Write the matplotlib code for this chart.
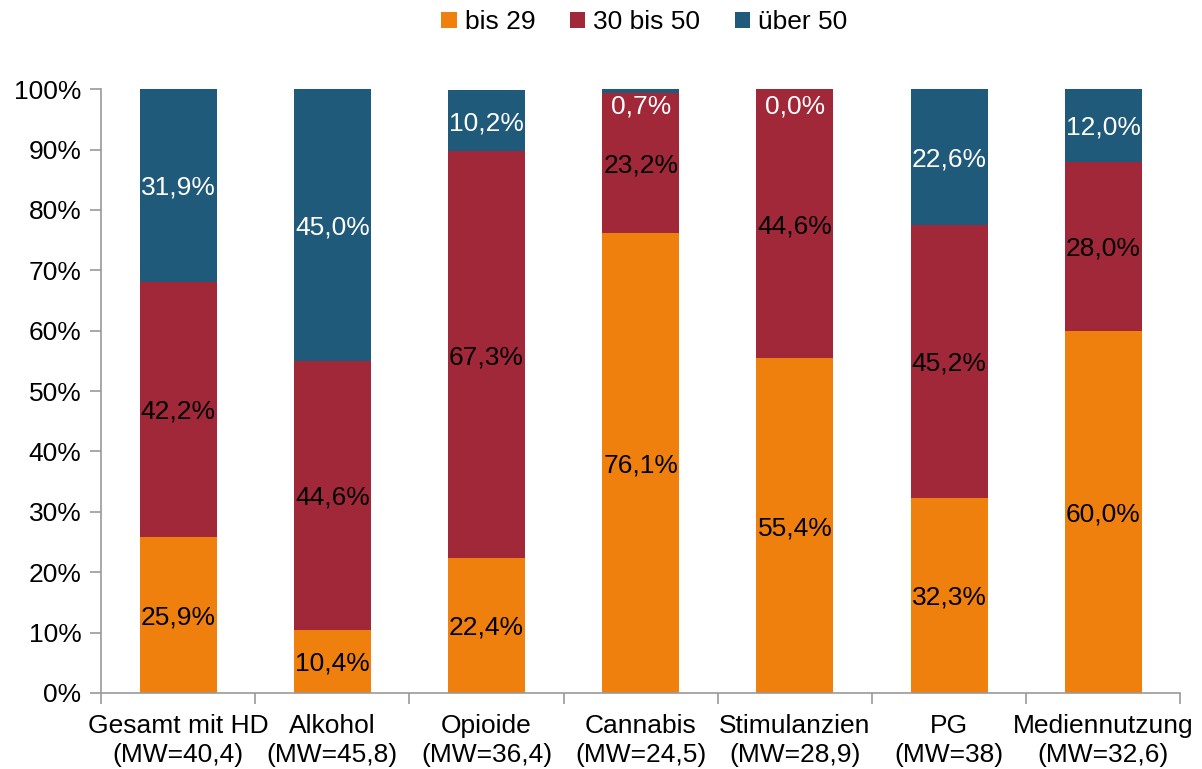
import matplotlib
matplotlib.use("Agg")
import matplotlib.pyplot as plt
import numpy as np

categories = ["Gesamt mit HD\n(MW=40,4)", "Alkohol\n(MW=45,8)", "Opioide\n(MW=36,4)",
              "Cannabis\n(MW=24,5)", "Stimulanzien\n(MW=28,9)", "PG\n(MW=38)",
              "Mediennutzung\n(MW=32,6)"]
bis29 = [25.9, 10.4, 22.4, 76.1, 55.4, 32.3, 60.0]
bis50 = [42.2, 44.6, 67.3, 23.2, 44.6, 45.2, 28.0]
ueber50 = [31.9, 45.0, 10.2, 0.7, 0.0, 22.6, 12.0]

series = [("bis 29", bis29, "#EF800E", "black"),
          ("30 bis 50", bis50, "#A12838", "black"),
          ("über 50", ueber50, "#1F5A7B", "white")]

plt.rcParams["font.family"] = ["Liberation Sans", "DejaVu Sans"]
FS = 19

fig = plt.figure(figsize=(12.02, 7.69), dpi=100)
ax = fig.add_axes([0.084, 0.099, 0.898, 0.785])

x = np.arange(len(categories))
bottom = np.zeros(len(categories))
for name, vals, color, tcolor in series:
    vals = np.array(vals)
    ax.bar(x, vals, 0.5, bottom=bottom, color=color, label=name)
    for xi, b, v in zip(x, bottom, vals):
        y = min(b + v / 2, 97.6)
        ax.text(xi, y, f"{v:.1f}%".replace(".", ","), ha="center", va="center_baseline",
                fontsize=FS, color=tcolor)
    bottom += vals

ax.set_xlim(-0.5, len(categories) - 0.5)
ax.set_ylim(0, 100)
ax.set_yticks(np.arange(0, 101, 10))
ax.set_yticklabels([f"{t}%" for t in range(0, 101, 10)], fontsize=FS)
ax.set_xticks(x)
ax.set_xticklabels(categories, fontsize=FS, linespacing=1.3)
ax.set_xticks(np.arange(-0.5, len(categories)), minor=True)
ax.tick_params(axis="x", which="major", length=0, pad=15)
ax.tick_params(axis="x", which="minor", length=8, color="#999999", width=1.2)
ax.tick_params(axis="y", length=8, color="#999999", width=1.2, pad=6)
for s in ["top", "right"]:
    ax.spines[s].set_visible(False)
for s in ["left", "bottom"]:
    ax.spines[s].set_color("#999999")
    ax.spines[s].set_linewidth(1.2)

fig.legend(loc="center", bbox_to_anchor=(0.536, 0.971), ncol=3, frameon=False,
           fontsize=FS, handlelength=0.6, handleheight=0.6, handletextpad=0.3,
           columnspacing=1.3)

fig.savefig("out.png", dpi=100)
